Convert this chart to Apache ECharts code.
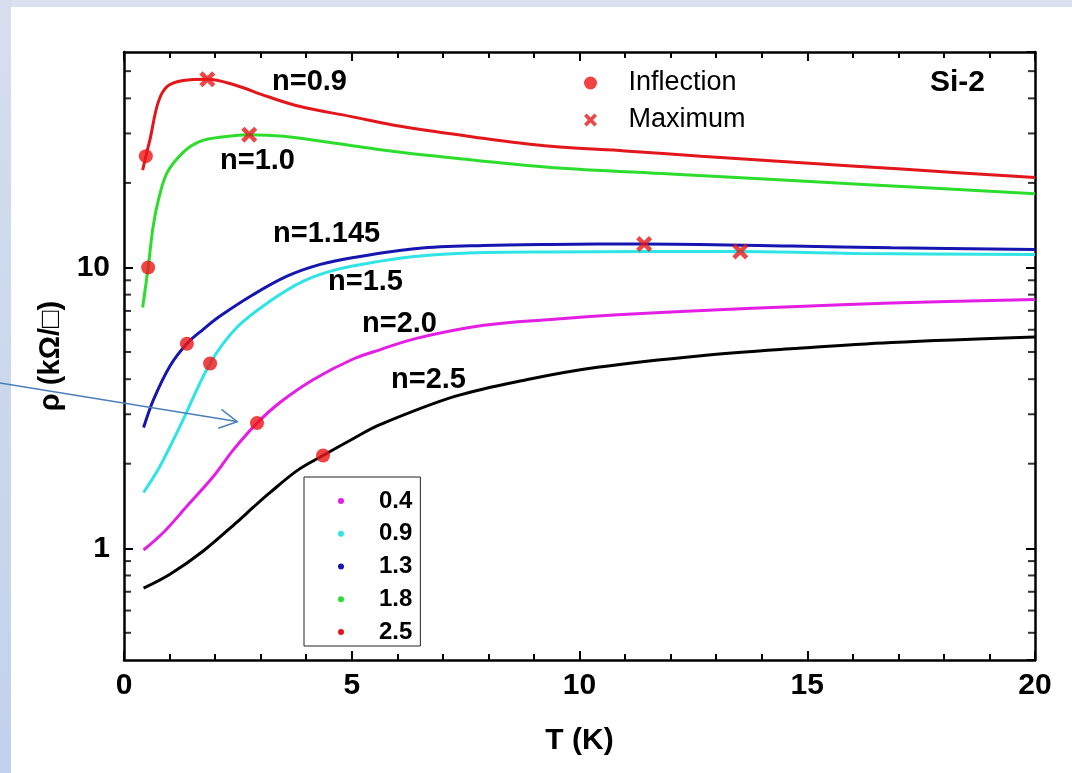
<!DOCTYPE html>
<html><head><meta charset="utf-8">
<script src="https://cdn.jsdelivr.net/npm/echarts@6/dist/echarts.min.js"></script>
<style>html,body{margin:0;padding:0;background:#fff}#c{width:1072px;height:773px}</style>
</head><body><div id="c"></div>
<script>
// ---- data (T in K, rho in kOhm/sq) ----
const T_n09 = [0.41, 0.48, 0.57, 0.75, 0.95, 1.30, 1.83, 2.40, 3.15, 3.87, 4.97, 6.07, 7.7, 9.37, 11.0, 12.67, 14.87, 17.07, 20.0];
const rho_n09 = [22.2, 24.9, 28.5, 38.7, 44.1, 46.3, 46.8, 44.8, 40.6, 37.4, 34.5, 31.8, 29.1, 27.0, 26.0, 24.9, 23.6, 22.4, 20.9];

const T_n10 = [0.41, 0.53, 0.64, 0.76, 0.95, 1.30, 1.67, 2.20, 2.75, 3.50, 4.97, 6.07, 7.7, 9.37, 12.0, 14.87, 17.4, 20.0];
const rho_n10 = [7.2, 10.0, 14.0, 17.5, 21.8, 25.7, 28.1, 29.2, 29.7, 29.3, 27.2, 25.7, 24.1, 22.7, 21.5, 20.3, 19.3, 18.3];

const T_n1145 = [0.43, 0.65, 1.01, 1.38, 1.74, 2.11, 2.84, 3.58, 4.31, 5.04, 6.44, 7.90, 9.37, 11.42, 14.65, 16.85, 20.0];
const rho_n1145 = [2.69, 3.39, 4.46, 5.35, 6.02, 6.71, 8.01, 9.31, 10.25, 10.85, 11.68, 11.97, 12.07, 12.12, 11.91, 11.75, 11.59];

const T_n15 = [0.43, 0.79, 1.23, 1.89, 2.48, 3.21, 3.94, 4.68, 5.63, 6.44, 7.90, 9.37, 11.5, 13.53, 16.13, 20.0];
const rho_n15 = [1.58, 1.96, 2.72, 4.55, 6.12, 7.59, 8.94, 9.84, 10.53, 10.97, 11.31, 11.36, 11.39, 11.40, 11.22, 11.13];

const T_n20 = [0.43, 0.87, 1.38, 1.96, 2.40, 2.92, 3.43, 4.16, 5.02, 5.63, 6.44, 7.90, 9.37, 10.84, 12.94, 14.65, 16.85, 20.0];
const rho_n20 = [0.986, 1.14, 1.41, 1.80, 2.24, 2.79, 3.31, 3.99, 4.71, 5.10, 5.60, 6.22, 6.53, 6.78, 7.05, 7.25, 7.47, 7.69];

const T_n25 = [0.43, 1.01, 1.74, 2.48, 2.84, 3.21, 3.80, 4.37, 5.04, 5.63, 7.28, 8.86, 10.39, 12.67, 14.81, 16.85, 20.0];
const rho_n25 = [0.721, 0.808, 0.978, 1.24, 1.40, 1.58, 1.89, 2.14, 2.46, 2.76, 3.48, 3.99, 4.41, 4.85, 5.15, 5.40, 5.65];

const inflT = [0.48, 0.53, 1.38, 1.89, 2.92, 4.37];
const inflRho = [24.9, 10.0, 5.35, 4.55, 2.79, 2.14];

const maxT = [1.83, 2.75, 11.42, 13.53];
const maxRho = [46.8, 29.7, 12.12, 11.40];

const legendNames = ['0.4', '0.9', '1.3', '1.8', '2.5'];
const curveLabels = ['n=0.9', 'n=1.0', 'n=1.145', 'n=1.5', 'n=2.0', 'n=2.5'];
const yMinorTicks = [0.5, 0.6, 0.7, 0.8, 0.9, 2, 3, 4, 5, 6, 7, 8, 9, 20, 30, 40, 50];
const xLabelStep = 5;

// ---- chart ----
const FONT = '"Liberation Sans", Arial, sans-serif';
const zip = (a, b) => a.map((v, i) => [v, b[i]]);
const XPATH = 'path://M2,0 L5,3 L8,0 L10,2 L7,5 L10,8 L8,10 L5,7 L2,10 L0,8 L3,5 L0,2 Z';

const curves = [
  { name: 'n=2.5 curve', T: T_n25, r: rho_n25, color: '#000000' },
  { name: legendNames[0], T: T_n20, r: rho_n20, color: '#e51ee5' },
  { name: legendNames[1], T: T_n15, r: rho_n15, color: '#2fe4e4' },
  { name: legendNames[2], T: T_n1145, r: rho_n1145, color: '#1515b0' },
  { name: legendNames[3], T: T_n10, r: rho_n10, color: '#2ddd2d' },
  { name: legendNames[4], T: T_n09, r: rho_n09, color: '#e3161c' }
];

const series = curves.map(c => ({
  name: c.name, type: 'line', data: zip(c.T, c.r), smooth: 0.35,
  showSymbol: false, symbol: 'none', color: c.color,
  lineStyle: { color: c.color, width: 3 }, z: 2, silent: true
}));
series.push({
  name: 'Inflection', type: 'scatter', data: zip(inflT, inflRho), symbol: 'circle', symbolSize: 14,
  itemStyle: { color: '#ee1414' }, z: 5, silent: true
});
series.push({
  name: 'Maximum', type: 'scatter', data: zip(maxT, maxRho), symbol: XPATH, symbolSize: 16,
  itemStyle: { color: '#e81818' }, z: 5, silent: true
});
series.push({
  name: 'yTicksLeft', type: 'scatter', data: yMinorTicks.map(v => [0, v]), symbol: 'rect',
  symbolSize: [7, 2], symbolOffset: [3.5, 0], itemStyle: { color: '#000' }, clip: false, silent: true, z: 6
});
series.push({
  name: 'yTicksRight', type: 'scatter', data: yMinorTicks.map(v => [20, v]), symbol: 'rect',
  symbolSize: [7, 2], symbolOffset: [-3.5, 0], itemStyle: { color: '#000' }, clip: false, silent: true, z: 6
});

const axisLine = { show: true, onZero: false, lineStyle: { color: '#000', width: 2.5 } };
const majorTick = { show: true, inside: true, length: 9, lineStyle: { color: '#000', width: 2 } };
const minorTick = { show: true, splitNumber: 5, length: 6, lineStyle: { color: '#000', width: 2 } };

const logLabel = v => {
  const l = Math.log10(v);
  return Math.abs(l - Math.round(l)) < 1e-6 ? String(Math.round(v)) : '';
};

const labelPos = [[272, 83], [220, 162], [273, 235], [328, 283], [362, 325], [391, 381]];

const option = {
  animation: false,
  backgroundColor: '#ffffff',
  textStyle: { fontFamily: FONT },
  grid: { left: 124, top: 52, width: 911, height: 608, containLabel: false },
  xAxis: [
    {
      type: 'value', position: 'bottom', min: 0, max: 20, interval: xLabelStep,
      axisLine, axisTick: majorTick, minorTick, splitLine: { show: false },
      axisLabel: { fontSize: 30, fontWeight: 'bold', color: '#000', margin: 11, fontFamily: FONT },
      name: 'T (K)', nameLocation: 'middle', nameGap: 66,
      nameTextStyle: { fontSize: 30, fontWeight: 'bold', color: '#000', fontFamily: FONT }
    },
    {
      type: 'value', position: 'top', min: 0, max: 20, interval: xLabelStep,
      axisLine, axisTick: majorTick, minorTick, splitLine: { show: false },
      axisLabel: { show: false }
    }
  ],
  yAxis: [
    {
      type: 'log', logBase: 10, position: 'left', min: 0.4, max: 58.5,
      axisLine, axisTick: majorTick, splitLine: { show: false }, minorTick: { show: false },
      axisLabel: { fontSize: 30, fontWeight: 'bold', color: '#000', margin: 14, formatter: logLabel, showMinLabel: false, showMaxLabel: false, fontFamily: FONT },
      name: 'ρ (kΩ/□)', nameLocation: 'middle', nameGap: 47, nameRotate: 90,
      nameTextStyle: { fontSize: 29, fontWeight: 'bold', color: '#000', fontFamily: FONT }
    },
    {
      type: 'log', logBase: 10, position: 'right', min: 0.4, max: 58.5,
      axisLine, axisTick: majorTick, splitLine: { show: false }, minorTick: { show: false },
      axisLabel: { show: false }
    }
  ],
  legend: [
    {
      data: ['Inflection', 'Maximum'], orient: 'vertical', left: 584, top: 68, padding: 0,
      itemWidth: 66, itemHeight: 13, itemGap: 7, selectedMode: false,
      textStyle: { fontSize: 27, color: '#000', lineHeight: 30, fontFamily: FONT }
    },
    {
      data: legendNames, orient: 'vertical', left: 304, top: 477, padding: [12, 8, 2, 34],
      icon: 'circle', itemWidth: 66, itemHeight: 6, itemGap: 8.75, selectedMode: false,
      borderColor: '#222', borderWidth: 1, backgroundColor: '#fff',
      textStyle: { fontSize: 24, fontWeight: 'bold', color: '#000', lineHeight: 24, fontFamily: FONT }
    }
  ],
  graphic: [
    { type: 'rect', z: -10, shape: { x: 0, y: 0, width: 1072, height: 7 },
      style: { fill: '#dbe2ef' } },
    { type: 'rect', z: -10, shape: { x: 0, y: 0, width: 11, height: 773 },
      style: { fill: new echarts.graphic.LinearGradient(0, 0, 0, 1, [
        { offset: 0, color: '#d6deee' }, { offset: 1, color: '#c2d1ec' }]) } },
    ...curveLabels.map((t, i) => ({
      type: 'text', left: labelPos[i][0], top: labelPos[i][1] - 16, z: 20,
      style: { text: t, fontSize: 29, fontWeight: 'bold', fill: '#000', fontFamily: FONT }
    })),
    { type: 'text', left: 930, top: 68, z: 20,
      style: { text: 'Si-2', fontSize: 30, fontWeight: 'bold', fill: '#000', fontFamily: FONT } },
    { type: 'polyline', z: 30, shape: { points: [[0, 383], [237, 421.5]] },
      style: { stroke: '#4a7ebb', lineWidth: 1.5, fill: null } },
    { type: 'polyline', z: 30, shape: { points: [[221.5, 409.3], [237.3, 421.7], [218.3, 428.3]] },
      style: { stroke: '#4a7ebb', lineWidth: 1.5, fill: null } }
  ],
  series
};

const chart = echarts.init(document.getElementById('c'), null, { renderer: 'canvas' });
chart.setOption(option);
</script></body></html>
